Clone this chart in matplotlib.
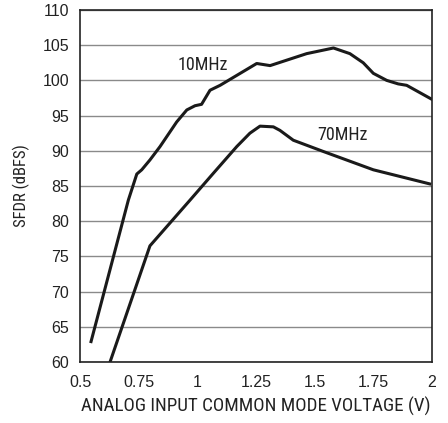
import numpy as np
import matplotlib.pyplot as plt

plt.rcParams['font.family'] = ['Liberation Sans', 'DejaVu Sans']
narrow = ['Roboto Condensed', 'DejaVu Sans']

# 10MHz curve
x10 = [0.547, 0.706, 0.742, 0.763, 0.798, 0.841, 0.912, 0.955, 0.99, 1.018, 1.054, 1.097,
       1.253, 1.31, 1.466, 1.58, 1.65, 1.707, 1.75, 1.807, 1.856, 1.892, 2.0]
y10 = [62.9, 83.0, 86.7, 87.3, 88.7, 90.6, 94.1, 95.8, 96.4, 96.6, 98.6, 99.3,
       102.4, 102.1, 103.8, 104.6, 103.8, 102.5, 101.0, 100.0, 99.5, 99.3, 97.3]

# 70MHz curve
x70 = [0.628, 0.798, 0.969, 1.068, 1.168, 1.224, 1.267, 1.324, 1.352, 1.409, 1.537, 1.75, 1.99]
y70 = [60.0, 76.5, 83.0, 86.8, 90.6, 92.5, 93.5, 93.4, 92.9, 91.5, 89.9, 87.3, 85.3]

xticks = [0.5, 0.75, 1, 1.25, 1.5, 1.75, 2]
xlabels = ['0.5', '0.75', '1', '1.25', '1.5', '1.75', '2']
yticks = list(range(60, 111, 5))

fig = plt.figure(figsize=(4.48, 4.23), dpi=100)
ax = fig.add_axes([0.1786, 0.1442, 0.7857, 0.8322])

ax.plot(x10, y10, color='#1a1a1a', lw=2.2, solid_joinstyle='round')
ax.plot(x70, y70, color='#1a1a1a', lw=2.2, solid_joinstyle='round')

ax.text(1.025, 102.2, '10MHz', fontsize=13, ha='center', va='center', color='#222222', family=narrow)
ax.text(1.62, 92.2, '70MHz', fontsize=13, ha='center', va='center', color='#222222', family=narrow)

ax.set_xlim(0.5, 2)
ax.set_ylim(60, 110)
ax.set_xticks(xticks)
ax.set_xticklabels(xlabels)
ax.set_yticks(yticks)
ax.yaxis.grid(True, color='#8a8a8a', lw=1)
ax.set_axisbelow(True)
ax.tick_params(length=0, labelsize=11.5, colors='#222222')
ax.tick_params(axis='x', pad=9)
ax.tick_params(axis='y', pad=8)
for s in ax.spines.values():
    s.set_color('#222222')
    s.set_linewidth(1.2)

ax.set_xlabel('ANALOG INPUT COMMON MODE VOLTAGE (V)', fontsize=13.7, color='#222222', labelpad=5, family=narrow)
ax.set_ylabel('SFDR (dBFS)', fontsize=12, color='#222222', labelpad=9, family=narrow)

fig.savefig('out.png', dpi=100)
